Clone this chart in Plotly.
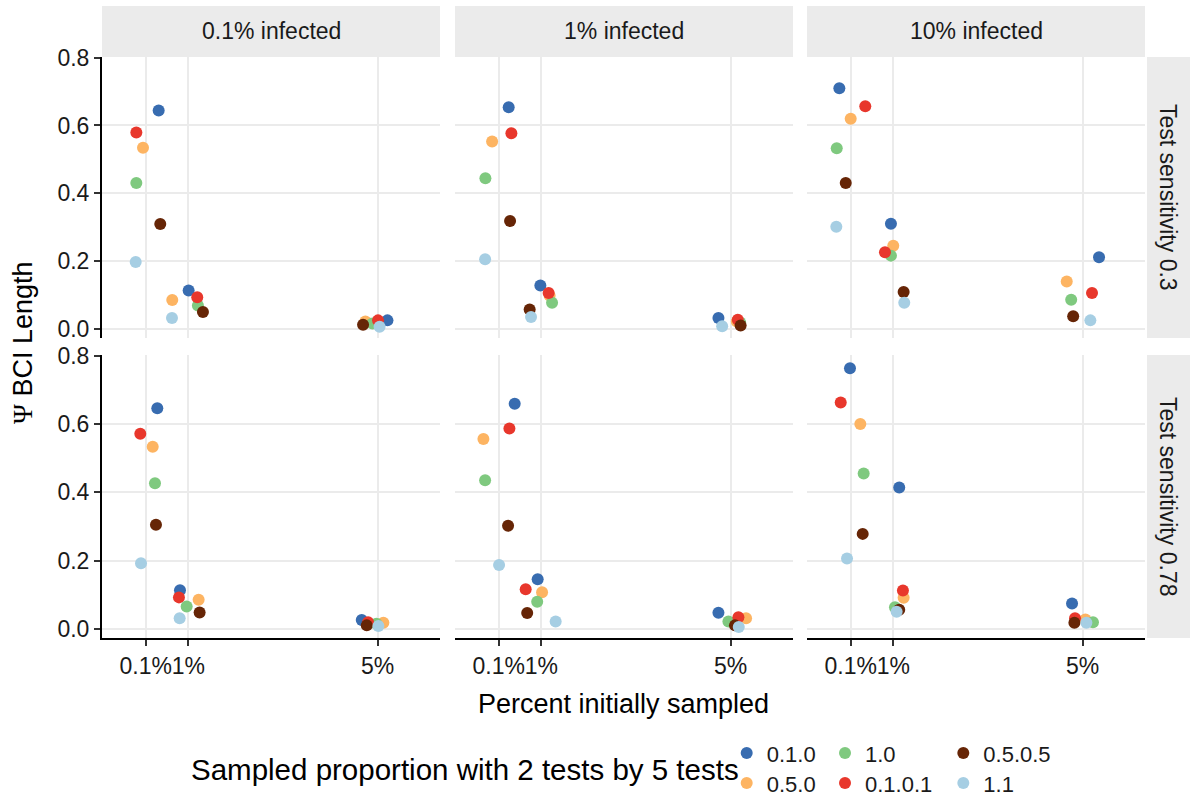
import plotly.graph_objects as go

W, H = 1190, 796

# ---------------- data ----------------
series_names = ["0.1.0", "0.5.0", "1.0", "0.1.0.1", "0.5.0.5", "1.1"]
series_colors = ["#386CB0", "#FDB462", "#7FC97F", "#E8372C", "#662506", "#A6CEE3"]

infected_levels = ["0.1% infected", "1% infected", "10% infected"]
sensitivity_levels = ["Test sensitivity 0.3", "Test sensitivity 0.78"]

sampled_ticks = [0.1, 1, 5]
sampled_labels = ["0.1%", "1%", "5%"]
psi_ticks = [0, 0.2, 0.4, 0.6, 0.8]
psi_labels = ["0.0", "0.2", "0.4", "0.6", "0.8"]

# Each list: 6 panels (sens 0.3: 0.1%,1%,10% infected; sens 0.78: same),
# 3 points per panel (0.1%, 1%, 5% initially sampled; x values jittered)
x_0_1_0 = [0.374, 1.007, 5.206, 0.311, 0.980, 4.741, -0.140, 0.950, 5.345,
           0.345, 0.824, 4.663, 0.438, 0.923, 4.741, 0.085, 1.125, 4.775]
psi_0_1_0 = [0.644, 0.113, 0.025, 0.654, 0.128, 0.032, 0.710, 0.310, 0.211,
             0.646, 0.113, 0.026, 0.659, 0.145, 0.047, 0.763, 0.414, 0.074]

x_0_5_0 = [0.043, 0.661, 4.740, -0.039, 1.176, 5.130, 0.100, 0.999, 4.663,
           0.248, 1.218, 5.120, -0.223, 1.016, 5.325, 0.303, 1.218, 5.057]
psi_0_5_0 = [0.534, 0.085, 0.022, 0.553, 0.098, 0.022, 0.620, 0.245, 0.140,
             0.533, 0.085, 0.018, 0.556, 0.107, 0.031, 0.600, 0.091, 0.027]

x_1_0 = [-0.098, 1.203, 4.890, -0.181, 1.227, 5.200, -0.195, 0.950, 4.757,
         0.296, 0.965, 4.973, -0.187, 0.913, 4.952, 0.374, 1.035, 5.217]
psi_1_0 = [0.430, 0.069, 0.016, 0.444, 0.077, 0.019, 0.533, 0.216, 0.086,
           0.426, 0.065, 0.015, 0.435, 0.079, 0.021, 0.455, 0.063, 0.019]

x_0_1_0_1 = [-0.098, 1.189, 5.007, 0.368, 1.155, 5.150, 0.408, 0.824, 5.197,
             -0.014, 0.802, 4.797, 0.326, 0.670, 5.163, -0.111, 1.203, 4.838]
psi_0_1_0_1 = [0.579, 0.093, 0.025, 0.577, 0.106, 0.027, 0.657, 0.226, 0.106,
               0.571, 0.092, 0.019, 0.587, 0.116, 0.034, 0.663, 0.112, 0.031]

x_0_5_0_5 = [0.408, 1.309, 4.691, 0.340, 0.754, 5.210, -0.005, 1.218, 4.799,
             0.317, 1.239, 4.769, 0.298, 0.702, 5.090, 0.353, 1.125, 4.825]
psi_0_5_0_5 = [0.309, 0.050, 0.012, 0.318, 0.057, 0.010, 0.430, 0.109, 0.037,
               0.305, 0.048, 0.010, 0.302, 0.046, 0.010, 0.278, 0.056, 0.018]

x_1_1 = [-0.111, 0.655, 5.040, -0.187, 0.783, 4.820, -0.204, 1.231, 5.162,
         0.001, 0.817, 5.015, 0.108, 1.303, 5.170, 0.022, 1.070, 5.078]
psi_1_1 = [0.197, 0.032, 0.006, 0.205, 0.035, 0.008, 0.301, 0.077, 0.025,
           0.192, 0.031, 0.008, 0.187, 0.021, 0.005, 0.206, 0.050, 0.018]

series_x = [x_0_1_0, x_0_5_0, x_1_0, x_0_1_0_1, x_0_5_0_5, x_1_1]
series_y = [psi_0_1_0, psi_0_5_0, psi_1_0, psi_0_1_0_1, psi_0_5_0_5, psi_1_1]

# ---------------- layout geometry (pixels) ----------------
FONT = "Liberation Sans, Arial, Helvetica, sans-serif"
col_px = [(102, 440), (455, 793), (807, 1145)]
row_px = [(57, 338), (355, 638)]
x_range = [-0.823, 6.316]
y_range = [-0.027, 0.802]
strip_top = (6, 57)
strip_right = (1147, 1190)


def px(x):
    return x / W


def py(y):
    return 1 - y / H


fig = go.Figure()

legend_cols = [746.7, 746.7, 845.0, 845.0, 963.3, 963.3]
legend_rows = [753.3, 783.3, 753.3, 783.3, 753.3, 783.3]

for j, name in enumerate(series_names):
    lkey = "legend" if j == 0 else f"legend{j + 1}"
    for p in range(6):
        suffix = "" if p == 0 else str(p + 1)
        fig.add_trace(go.Scatter(
            x=series_x[j][3 * p:3 * p + 3],
            y=series_y[j][3 * p:3 * p + 3],
            mode="markers",
            marker=dict(size=12, color=series_colors[j], line=dict(width=0)),
            name=name,
            legendgroup=name,
            showlegend=(p == 0),
            legend=lkey,
            xaxis="x" + suffix,
            yaxis="y" + suffix,
            hoverinfo="x+y+name",
        ))

layout = dict(
    width=W, height=H,
    margin=dict(l=0, r=0, t=0, b=0, autoexpand=False),
    paper_bgcolor="white",
    plot_bgcolor="white",
    font=dict(family=FONT, color="#1a1a1a", size=22),
    shapes=[],
    annotations=[],
)

grid_color = "#EBEBEB"
for p in range(6):
    r, c = divmod(p, 3)
    suffix = "" if p == 0 else str(p + 1)
    xa = dict(
        domain=[px(col_px[c][0]), px(col_px[c][1])],
        range=x_range,
        anchor="y" + suffix,
        tickmode="array",
        tickvals=sampled_ticks,
        ticktext=sampled_labels,
        tickangle=0,
        showgrid=True, gridcolor=grid_color, gridwidth=2,
        zeroline=False,
        showticklabels=(r == 1),
        ticks="outside" if r == 1 else "",
        ticklen=6, tickwidth=2, tickcolor="#333333",
        showline=(r == 1), linecolor="black", linewidth=2,
        tickfont=dict(size=23, color="#1a1a1a", family=FONT),
        automargin=False,
        fixedrange=True,
    )
    ya = dict(
        domain=[py(row_px[r][1]), py(row_px[r][0])],
        range=y_range,
        anchor="x" + suffix,
        tickmode="array",
        tickvals=psi_ticks,
        ticktext=psi_labels,
        showgrid=True, gridcolor=grid_color, gridwidth=2,
        zeroline=False,
        showticklabels=(c == 0),
        ticks="outside" if c == 0 else "",
        ticklen=6, tickwidth=2, tickcolor="#333333",
        showline=(c == 0), linecolor="black", linewidth=2,
        tickfont=dict(size=23, color="#1a1a1a", family=FONT),
        automargin=False,
        fixedrange=True,
    )
    layout["xaxis" + suffix] = xa
    layout["yaxis" + suffix] = ya

# strips
for c, lab in enumerate(infected_levels):
    layout["shapes"].append(dict(
        type="rect", xref="paper", yref="paper",
        x0=px(col_px[c][0]), x1=px(col_px[c][1]),
        y0=py(strip_top[1]), y1=py(strip_top[0]),
        fillcolor="#EBEBEB", line=dict(width=0), layer="below"))
    layout["annotations"].append(dict(
        text=lab, xref="paper", yref="paper",
        x=px((col_px[c][0] + col_px[c][1]) / 2), y=py((strip_top[0] + strip_top[1]) / 2),
        xanchor="center", yanchor="middle", showarrow=False,
        font=dict(size=23, color="#1a1a1a", family=FONT)))
for r, lab in enumerate(sensitivity_levels):
    layout["shapes"].append(dict(
        type="rect", xref="paper", yref="paper",
        x0=px(strip_right[0]), x1=px(strip_right[1]),
        y0=py(row_px[r][1]), y1=py(row_px[r][0]),
        fillcolor="#EBEBEB", line=dict(width=0), layer="below"))
    layout["annotations"].append(dict(
        text=lab, xref="paper", yref="paper",
        x=px((strip_right[0] + strip_right[1]) / 2), y=py((row_px[r][0] + row_px[r][1]) / 2),
        xanchor="center", yanchor="middle", showarrow=False, textangle=90,
        font=dict(size=23, color="#1a1a1a", family=FONT)))

# axis titles
layout["annotations"].append(dict(
    text="Percent initially sampled", xref="paper", yref="paper",
    x=px(623.5), y=py(704), xanchor="center", yanchor="middle", showarrow=False,
    font=dict(size=27, color="#000000", family=FONT)))
layout["annotations"].append(dict(
    text="<span style='font-family:Liberation Serif'>\u03a8</span> BCI Length",
    xref="paper", yref="paper",
    x=px(23), y=py(343), xanchor="center", yanchor="middle", showarrow=False,
    textangle=-90,
    font=dict(size=27, color="#000000", family=FONT)))

# legend title
layout["annotations"].append(dict(
    text="Sampled proportion with 2 tests by 5 tests", xref="paper", yref="paper",
    x=px(189), y=py(769), xanchor="left", yanchor="middle", showarrow=False,
    font=dict(size=29.5, color="#000000", family=FONT)))

# legends (one entry each, arranged as 2 rows x 3 columns)
for j in range(6):
    lkey = "legend" if j == 0 else f"legend{j + 1}"
    layout[lkey] = dict(
        x=px(legend_cols[j] - 20), y=py(legend_rows[j]),
        xanchor="left", yanchor="middle",
        orientation="v",
        bgcolor="rgba(0,0,0,0)", borderwidth=0,
        font=dict(size=22, color="#1a1a1a", family=FONT),
        itemclick=False, itemdoubleclick=False,
    )

fig.update_layout(**layout)
fig.write_html("out.html")
